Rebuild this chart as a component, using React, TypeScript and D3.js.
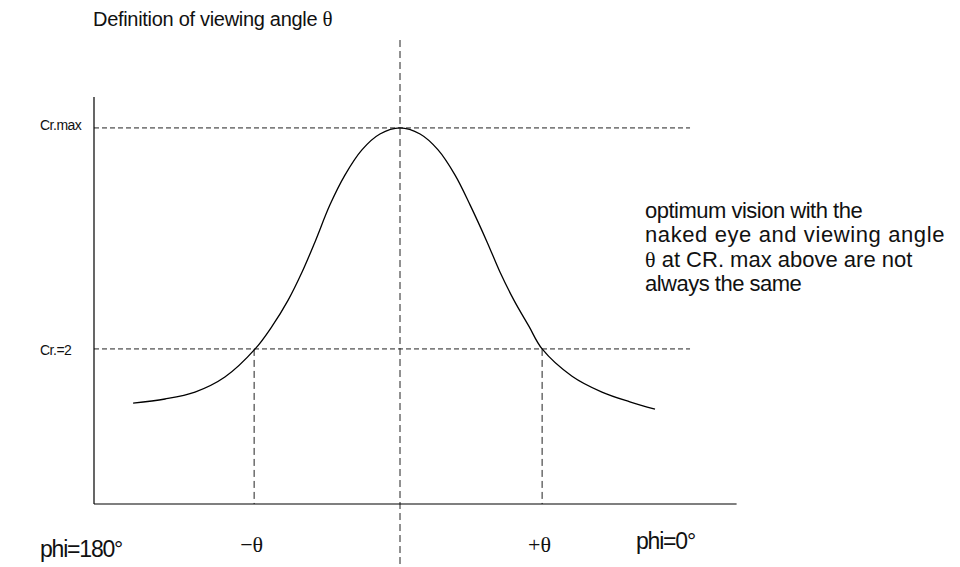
import React from 'react';
import * as d3 from 'd3';

// viewing angle (deg) and contrast ratio (arbitrary units)
const angles = [-78.5, -69.1, -60.3, -51.5, -42.6, -37.6, -32.9, -28.8, -25, -20.6, -16.2, -11.2, -5.9, 0,
    5.9, 11.2, 16.2, 20.6, 25.6, 29.4, 33.5, 37.9, 41.8, 50.6, 59.4, 67.6, 75];
const contrast = [24.8, 25.8, 27.5, 31.2, 38.1, 43.7, 50.1, 57, 64.4, 73.5, 80.8, 87, 90.9, 92.4,
    90.9, 87, 80.8, 73.5, 64.4, 57, 50.1, 43.7, 38.1, 31.4, 27.5, 25.1, 23.3];

const crMax = 92.4;
const crTwo = 38.1;
const thetaMinus = -42.9;
const thetaPlus = 41.8;
const refLineEnd = 85.3;

const titleText = 'Definition of viewing angle ';
const noteLines = [
    'optimum vision with the',
    'naked eye and viewing angle',
    'θ at CR. max above are not',
    'always the same',
];
// per-line letter spacing so the note lines end where the sketch's do
const noteSpacing = [-0.5, 0.6, 0, -0.5];

const W = 960;
const H = 567;

const App = () => {
    const x = d3.scaleLinear().domain([-90, 100]).range([94, 740]);
    const y = d3.scaleLinear().domain([0, 100]).range([504, 97]);

    const pts: [number, number][] = angles.map((a, i) => [a, contrast[i]]);
    const curve = d3.line<[number, number]>()
        .x(d => x(d[0]))
        .y(d => y(d[1]))
        .curve(d3.curveCatmullRom.alpha(0.5));

    const sans = '"Liberation Sans", Arial, sans-serif';
    const serif = '"Liberation Serif", "Times New Roman", serif';
    const dashH = '5,3';
    const dashV = '7,4';

    return (
        <svg width={W} height={H} style={{ position: 'absolute', left: 0, top: 0, background: '#fff' }}>
            <text x={93} y={26} fontFamily={sans} fontSize={20} letterSpacing={-0.3} fill="#111">
                {titleText}<tspan fontFamily={serif} fontSize={21}>θ</tspan>
            </text>

            {/* reference lines */}
            <line x1={x(-90)} x2={x(refLineEnd)} y1={y(crMax)} y2={y(crMax)} stroke="#222" strokeDasharray={dashH} />
            <line x1={x(-90)} x2={x(refLineEnd)} y1={y(crTwo)} y2={y(crTwo)} stroke="#222" strokeDasharray={dashH} />
            <line x1={x(0)} x2={x(0)} y1={y(114)} y2={y(-15.5)} stroke="#222" strokeDasharray={dashV} />
            <line x1={x(thetaMinus)} x2={x(thetaMinus)} y1={y(crTwo)} y2={y(0)} stroke="#222" strokeDasharray={dashV} />
            <line x1={x(thetaPlus)} x2={x(thetaPlus)} y1={y(crTwo)} y2={y(0)} stroke="#222" strokeDasharray={dashV} />

            {/* axes */}
            <line x1={x(-90)} x2={x(-90)} y1={y(100)} y2={y(0)} stroke="#000" strokeWidth={1.2} />
            <line x1={x(-90)} x2={x(99)} y1={y(0)} y2={y(0)} stroke="#000" strokeWidth={1.2} />

            <path d={curve(pts) || ''} fill="none" stroke="#000" strokeWidth={1.3} />

            <text x={40} y={y(crMax) + 2} fontFamily={sans} fontSize={14} letterSpacing={-0.5} fill="#111">Cr.max</text>
            <text x={40} y={y(crTwo) + 6} fontFamily={sans} fontSize={14} letterSpacing={-0.5} fill="#111">Cr.=2</text>

            <text x={40} y={557} fontFamily={sans} fontSize={23} letterSpacing={-1.2} fill="#111">phi=180°</text>
            <text x={636} y={549} fontFamily={sans} fontSize={23} letterSpacing={-1.2} fill="#111">phi=0°</text>
            <text x={x(thetaMinus) - 14} y={552} fontFamily={serif} fontSize={22} fill="#111">−θ</text>
            <text x={x(thetaPlus) - 14} y={552} fontFamily={serif} fontSize={22} fill="#111">+θ</text>

            <g fontFamily={sans} fontSize={22} fill="#111">
                {noteLines.map((t, i) => (
                    <text key={i} x={645} y={218 + i * 24.3} letterSpacing={noteSpacing[i]}>
                        {t.startsWith('θ')
                            ? <><tspan fontFamily={serif}>θ</tspan>{t.slice(1)}</>
                            : t}
                    </text>
                ))}
            </g>
        </svg>
    );
};

export default App;
